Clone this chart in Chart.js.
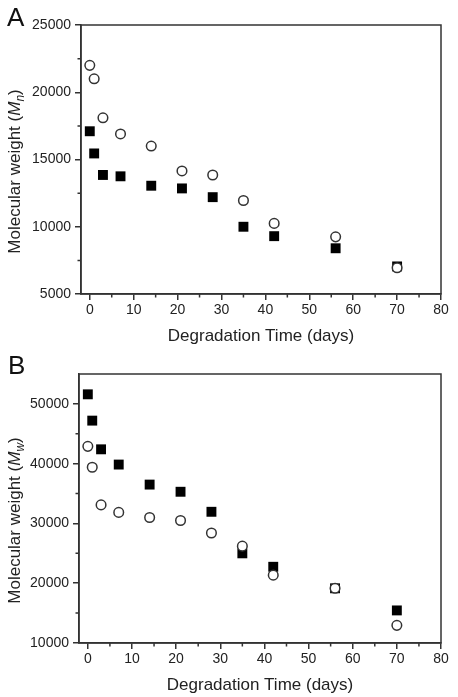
<!DOCTYPE html>
<html lang="en">
<head>
  <meta charset="UTF-8">
  <title>Molecular weight vs degradation time</title>
  <style>
    body, html {
      margin: 0;
      padding: 0;
      background: #fff;
    }

    .fig {
      position: relative;
      width: 458px;
      height: 697px;
    }

    .panel {
      position: absolute;
      left: 0;
    }

    #panelA { top: 0; }
    #panelB { top: 345px; }

    /* panel letters */
    .letter {
      position: absolute;
      font-family: Arial, "Liberation Sans", sans-serif;
      font-size: 26px;
      line-height: 1;
      color: #111;
    }
  </style>
  <script src="https://cdn.jsdelivr.net/npm/chart.js"></script>
</head>
<body>
  <div class="fig">
    <canvas id="panelA" class="panel" width="458" height="345"></canvas>
    <canvas id="panelB" class="panel" width="458" height="352"></canvas>
    <div class="letter" style="left:7px; top:4px;">A</div>
    <div class="letter" style="left:8px; top:352px;">B</div>
  </div>

  <script>
    // data
    var days = [0, 1, 3, 7, 14, 21, 28, 35, 42, 56, 70];

    // A: Mn
    var mnSquares = [17100, 15450, 13850, 13750, 13050, 12850, 12200, 10000, 9300, 8400, 7050];
    var mnCircles = [22000, 21000, 18100, 16900, 16000, 14150, 13850, 11950, 10250, 9250, 6950];

    // B: Mw
    var mwSquares = [51600, 47200, 42400, 39850, 36500, 35300, 31950, 25000, 22750, 19150, 15450];
    var mwCircles = [42900, 39400, 33100, 31850, 31000, 30500, 28400, 26200, 21350, 19150, 12950];

    // axes
    var xTicks = [0, 10, 20, 30, 40, 50, 60, 70, 80];
    var xMinor = [5, 15, 25, 35, 45, 55, 65, 75];
    var mnTicks = [5000, 10000, 15000, 20000, 25000];
    var mnMinor = [7500, 12500, 17500, 22500];
    var mwTicks = [10000, 20000, 30000, 40000, 50000];
    var mwMinor = [15000, 25000, 35000, 45000];

    var FONT = 'Arial, "Liberation Sans", sans-serif';
    var AXIS = '#333';
    var TEXT = '#222';

    function pts(ys) {
      return days.map(function (d, i) { return { x: d, y: ys[i] }; });
    }

    // frame, minor ticks and y title with subscript
    function framePlugin(yMinor, sub) {
      return {
        id: 'frame',
        afterDraw: function (chart) {
          var ctx = chart.ctx;
          var a = chart.chartArea;
          var xs = chart.scales.x, ys = chart.scales.y;
          ctx.save();
          ctx.strokeStyle = AXIS;
          ctx.lineWidth = 1.5;
          ctx.strokeRect(a.left, a.top, a.right - a.left, a.bottom - a.top);

          ctx.beginPath();
          xMinor.forEach(function (v) {
            var px = xs.getPixelForValue(v);
            ctx.moveTo(px, a.bottom);
            ctx.lineTo(px, a.bottom + 3.5);
          });
          yMinor.forEach(function (v) {
            var py = ys.getPixelForValue(v);
            ctx.moveTo(a.left, py);
            ctx.lineTo(a.left - 3.5, py);
          });
          ctx.stroke();

          // y axis title: Molecular weight (M_sub)
          var main = 'Molecular weight (';
          ctx.fillStyle = TEXT;
          ctx.textBaseline = 'alphabetic';
          ctx.font = '17px ' + FONT;
          var w1 = ctx.measureText(main).width;
          ctx.font = 'italic 17px ' + FONT;
          var w2 = ctx.measureText('M').width;
          ctx.font = 'italic 12px ' + FONT;
          var w3 = ctx.measureText(sub).width;
          ctx.font = '17px ' + FONT;
          var w4 = ctx.measureText(')').width;
          var total = w1 + w2 + w3 + w4;

          ctx.translate(19.5, (a.top + a.bottom) / 2 + 12);
          ctx.rotate(-Math.PI / 2);
          var x0 = -total / 2;
          ctx.font = '17px ' + FONT;
          ctx.fillText(main, x0, 0);
          ctx.font = 'italic 17px ' + FONT;
          ctx.fillText('M', x0 + w1, 0);
          ctx.font = 'italic 12px ' + FONT;
          ctx.fillText(sub, x0 + w1 + w2, 4);
          ctx.font = '17px ' + FONT;
          ctx.fillText(')', x0 + w1 + w2 + w3, 0);
          ctx.restore();
        }
      };
    }

    function makePanel(id, squares, circles, yMin, yMax, yTicks, yMinor, sub, lay) {
      return new Chart(document.getElementById(id).getContext('2d'), {
        type: 'scatter',
        data: {
          datasets: [
            {
              // open circles, drawn on top
              data: pts(circles),
              pointStyle: 'circle',
              pointRadius: 4.8,
              pointBackgroundColor: '#fff',
              pointBorderColor: '#333',
              pointBorderWidth: 1.5,
              showLine: false
            },
            {
              // filled squares
              data: pts(squares),
              pointStyle: 'rect',
              pointRadius: 7,
              pointBackgroundColor: '#000',
              pointBorderColor: '#000',
              pointBorderWidth: 0,
              showLine: false
            }
          ]
        },
        options: {
          responsive: false,
          animation: false,
          layout: { padding: { top: lay.top, right: 17, left: 0, bottom: 0 } },
          plugins: {
            legend: { display: false },
            tooltip: { enabled: false }
          },
          scales: {
            x: {
              type: 'linear',
              min: -2,
              max: 80,
              afterBuildTicks: function (s) { s.ticks = xTicks.map(function (v) { return { value: v }; }); },
              afterFit: function (s) { s.height = lay.xHeight; },
              ticks: {
                color: TEXT,
                font: { family: FONT, size: 14 },
                padding: 2,
                maxRotation: 0,
                callback: function (v) { return String(v); }
              },
              grid: { drawOnChartArea: false, tickLength: 6, color: AXIS, lineWidth: 1.5 },
              border: { display: true, color: AXIS, width: 1.5 },
              title: {
                display: true,
                text: 'Degradation Time (days)',
                color: TEXT,
                font: { family: FONT, size: 17, lineHeight: 1 },
                padding: { top: 0, bottom: lay.titlePad }
              }
            },
            y: {
              type: 'linear',
              min: yMin,
              max: yMax,
              afterBuildTicks: function (s) { s.ticks = yTicks.map(function (v) { return { value: v }; }); },
              afterFit: function (s) { s.width = lay.yWidth; },
              ticks: {
                color: TEXT,
                font: { family: FONT, size: 14 },
                padding: 4,
                callback: function (v) { return String(v); }
              },
              grid: { drawOnChartArea: false, tickLength: 6, color: AXIS, lineWidth: 1.5 },
              border: { display: true, color: AXIS, width: 1.5 }
            }
          }
        },
        plugins: [framePlugin(yMinor, sub)]
      });
    }

    var chartA = makePanel('panelA', mnSquares, mnCircles, 5000, 25000, mnTicks, mnMinor, 'n',
      { top: 25, yWidth: 81, xHeight: 51, titlePad: 0.5 });
    var chartB = makePanel('panelB', mwSquares, mwCircles, 10000, 55000, mwTicks, mwMinor, 'w',
      { top: 29, yWidth: 79, xHeight: 54, titlePad: 3.5 });
  </script>
</body>
</html>
